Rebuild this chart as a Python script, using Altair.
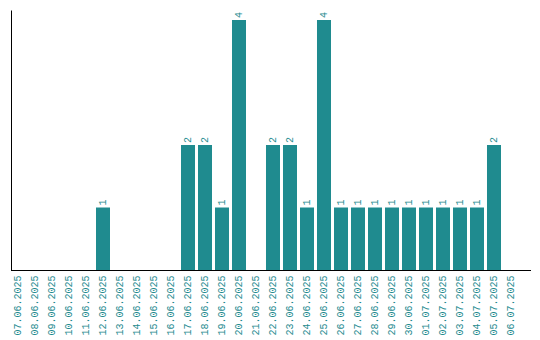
import altair as alt
import pandas as pd

dates = ["07.06.2025", "08.06.2025", "09.06.2025", "10.06.2025", "11.06.2025",
         "12.06.2025", "13.06.2025", "14.06.2025", "15.06.2025", "16.06.2025",
         "17.06.2025", "18.06.2025", "19.06.2025", "20.06.2025", "21.06.2025",
         "22.06.2025", "23.06.2025", "24.06.2025", "25.06.2025", "26.06.2025",
         "27.06.2025", "28.06.2025", "29.06.2025", "30.06.2025", "01.07.2025",
         "02.07.2025", "03.07.2025", "04.07.2025", "05.07.2025", "06.07.2025"]
counts = [0, 0, 0, 0, 0,
          1, 0, 0, 0, 0,
          2, 2, 1, 4, 0,
          2, 2, 1, 4, 1,
          1, 1, 1, 1, 1,
          1, 1, 1, 2, 0]

color = "#1f8b8f"
font = "Liberation Mono"
df = pd.DataFrame({"date": dates, "count": counts})

xenc = alt.X("date:N", sort=dates,
             scale=alt.Scale(range=[0, 507], paddingInner=0.176, paddingOuter=0),
             axis=alt.Axis(title=None, domain=False, ticks=False, labelAngle=270,
                           labelAlign="right", labelBaseline="middle",
                           labelFont=font, labelFontSize=10,
                           labelColor=color, labelPadding=5, labelOverlap=False))
yenc = alt.Y("count:Q", scale=alt.Scale(domain=[0, 4.16], nice=False),
             axis=alt.Axis(title=None, labels=False, ticks=False, grid=False,
                           domainColor="black", domainWidth=1))

bars = alt.Chart(df).mark_bar(color=color).encode(x=xenc, y=yenc)
text = alt.Chart(df).transform_filter("datum.count > 0").mark_text(
    angle=270, align="left", baseline="middle", dx=2,
    font=font, fontSize=10, color=color
).encode(x=alt.X("date:N", sort=dates), y="count:Q", text="count:Q")
baseline = alt.Chart(df).mark_rule(color="black", strokeWidth=1).encode(
    x=alt.value(0), x2=alt.value(520), y=alt.value(260.5))

chart = alt.layer(bars, text, baseline).properties(
    width=520, height=260,
    padding={"left": 2, "top": 2, "right": 0, "bottom": 0}
).configure_view(stroke=None)

chart.save("out.html", embed_options={"renderer": "svg", "actions": False})
